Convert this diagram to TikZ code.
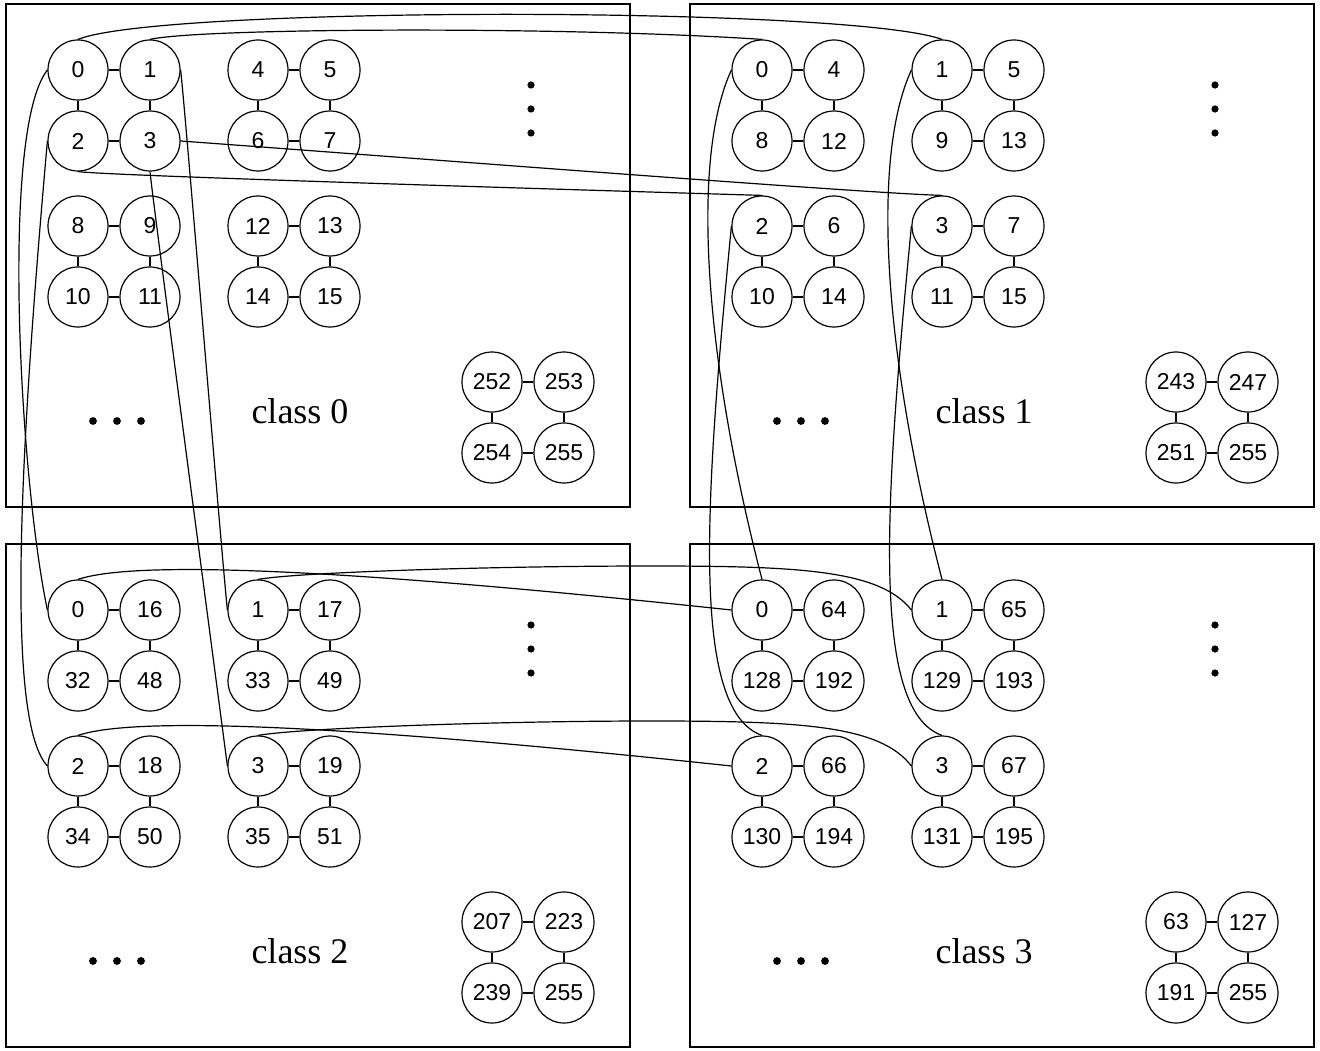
\documentclass[tikz,border=0pt]{standalone}
\usepackage{fontspec}
\setmainfont{Liberation Serif}
\setsansfont{Liberation Sans}

% a 2x2 block of numbered vertices joined into a square
% #1 name prefix, #2 #3 position of the upper left vertex, #4-#7 labels
\newcommand\quadgroup[7]{%
  \node[vtx] (#1a) at (#2,#3) {#4};
  \node[vtx] (#1b) at (#2+72,#3) {#5};
  \node[vtx] (#1c) at (#2,#3+71) {#6};
  \node[vtx] (#1d) at (#2+72,#3+71) {#7};
  \draw[link] (#1a) -- (#1b) (#1c) -- (#1d) (#1a) -- (#1c) (#1b) -- (#1d);
}
% ellipsis marks of a class panel
\newcommand\panelellipses{%
  \foreach \x in {93,117,141} \fill (\x,421) circle (3.9pt);
  \foreach \y in {85,109,133} \fill (531,\y) circle (3.6pt);
}

\begin{document}
\begin{tikzpicture}[x=1pt,y=-1pt,line width=1.2pt,
  vtx/.style={circle,draw,minimum size=60pt,inner sep=0pt,
    font=\sffamily\fontsize{23}{23}\selectfont},
  link/.style={line width=1.2pt},
  panel/.style={line width=1.3pt},
  classlabel/.style={anchor=base,font=\fontsize{36}{36}\selectfont},
  wire/.style={line width=1.2pt}]
\useasboundingbox (0,0) rectangle (1320,1051);

% class 0
\begin{scope}
  \draw[panel] (6,4) rectangle (630,507);
  \quadgroup{p0g1}{78}{70}{0}{1}{2}{3}
  \quadgroup{p0g2}{258}{70}{4}{5}{6}{7}
  \quadgroup{p0g3}{78}{226}{8}{9}{10}{11}
  \quadgroup{p0g4}{258}{226}{12}{13}{14}{15}
  \quadgroup{p0gz}{492}{382}{252}{253}{254}{255}
  \node[classlabel] (lab0) at (300,423) {class 0};
  \panelellipses
\end{scope}

% class 1
\begin{scope}[shift={(684,0)}]
  \draw[panel] (6,4) rectangle (630,507);
  \quadgroup{p1g1}{78}{70}{0}{4}{8}{12}
  \quadgroup{p1g2}{258}{70}{1}{5}{9}{13}
  \quadgroup{p1g3}{78}{226}{2}{6}{10}{14}
  \quadgroup{p1g4}{258}{226}{3}{7}{11}{15}
  \quadgroup{p1gz}{492}{382}{243}{247}{251}{255}
  \node[classlabel] (lab1) at (300,423) {class 1};
  \panelellipses
\end{scope}

% class 2
\begin{scope}[shift={(0,540)}]
  \draw[panel] (6,4) rectangle (630,507);
  \quadgroup{p2g1}{78}{70}{0}{16}{32}{48}
  \quadgroup{p2g2}{258}{70}{1}{17}{33}{49}
  \quadgroup{p2g3}{78}{226}{2}{18}{34}{50}
  \quadgroup{p2g4}{258}{226}{3}{19}{35}{51}
  \quadgroup{p2gz}{492}{382}{207}{223}{239}{255}
  \node[classlabel] (lab2) at (300,423) {class 2};
  \panelellipses
\end{scope}

% class 3
\begin{scope}[shift={(684,540)}]
  \draw[panel] (6,4) rectangle (630,507);
  \quadgroup{p3g1}{78}{70}{0}{64}{128}{192}
  \quadgroup{p3g2}{258}{70}{1}{65}{129}{193}
  \quadgroup{p3g3}{78}{226}{2}{66}{130}{194}
  \quadgroup{p3g4}{258}{226}{3}{67}{131}{195}
  \quadgroup{p3gz}{492}{382}{63}{127}{191}{255}
  \node[classlabel] (lab3) at (300,423) {class 3};
  \panelellipses
\end{scope}

% links from class 0 to class 1
\draw[wire] (p0g1a.north) .. controls (160,6) and (850,6) .. (p1g2a.north);
\draw[wire] (p0g1b.north) .. controls (200,28) and (560,26) .. (p1g1a.north);
\draw[wire] (p0g1d.east) .. controls (400,157) and (860,193) .. (p1g4a.north);
\draw[wire] (p0g1c.south) .. controls (110,176) and (650,192) .. (p1g3a.north);

% links from class 0 to class 2
\draw[wire] (p0g1a.west) .. controls (0,130) and (20,480) .. (p2g1a.west);
\draw[wire] (p0g1c.west) .. controls (20,450) and (5,720) .. (p2g3a.west);
\draw[wire] (p0g1b.east) .. controls (184,95) and (222,560) .. (p2g2a.west);
\draw[wire] (p0g1d.south) .. controls (152,195) and (224,740) .. (p2g4a.west);

% links from class 1 to class 3
\draw[wire] (p1g1a.west) .. controls (690,160) and (705,360) .. (p3g1a.north);
\draw[wire] (p1g3a.west) .. controls (705,500) and (690,710) .. (p3g3a.north);
\draw[wire] (p1g2a.west) .. controls (870,160) and (885,360) .. (p3g2a.north);
\draw[wire] (p1g4a.west) .. controls (885,500) and (870,710) .. (p3g4a.north);

% links from class 2 to class 3
\coordinate (bend1) at (650,566);
\coordinate (bend3) at (650,721);
\draw[wire] (p2g1a.north) .. controls (150,555) and (450,580) .. (p3g1a.west);
\draw[wire] (p2g2a.north) .. controls (300,572) and (500,566) .. (bend1)
  .. controls (800,566) and (880,570) .. (p3g2a.west);
\draw[wire] (p2g3a.north) .. controls (150,711) and (450,736) .. (p3g3a.west);
\draw[wire] (p2g4a.north) .. controls (300,728) and (500,721) .. (bend3)
  .. controls (800,721) and (880,725) .. (p3g4a.west);
\end{tikzpicture}
\end{document}
